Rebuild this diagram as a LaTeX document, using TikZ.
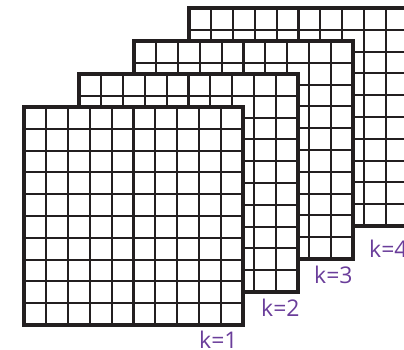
\documentclass[tikz,border=0pt]{standalone}
\usepackage{fontspec}
\setmainfont{Open Sans}
\definecolor{gridline}{HTML}{231F20}
\definecolor{klabel}{HTML}{6A3D9A}
\begin{document}
\begin{tikzpicture}[x=1pt,y=-1pt,
  innerline/.style={draw=gridline,line width=2.1pt},
  frame/.style={draw=gridline,line width=3.3pt},
  lab/.style={text=klabel,font=\fontsize{23}{23}\selectfont,inner sep=0pt,anchor=base west}]
\useasboundingbox (0,0) rectangle (404,349);
\begin{scope}
\clip (0,0) rectangle (404,349);
\foreach \x/\y in {189/8,134/41,79/74,24/107}{
  \fill[white] (\x,\y) rectangle ++(219,218);
  \foreach \i in {1,...,9}{
    \draw[innerline] (\x+\i*21.9,\y) -- ++(0,218);
    \draw[innerline] (\x,\y+\i*21.8) -- ++(219,0);
  }
  \draw[frame] (\x,\y) rectangle ++(219,218);
}
\end{scope}
\node[lab] (k1) at (199,348) {k=1};
\node[lab] (k2) at (261,316) {k=2};
\node[lab] (k3) at (314,283) {k=3};
\node[lab] (k4) at (369,257) {k=4};
\end{tikzpicture}
\end{document}
